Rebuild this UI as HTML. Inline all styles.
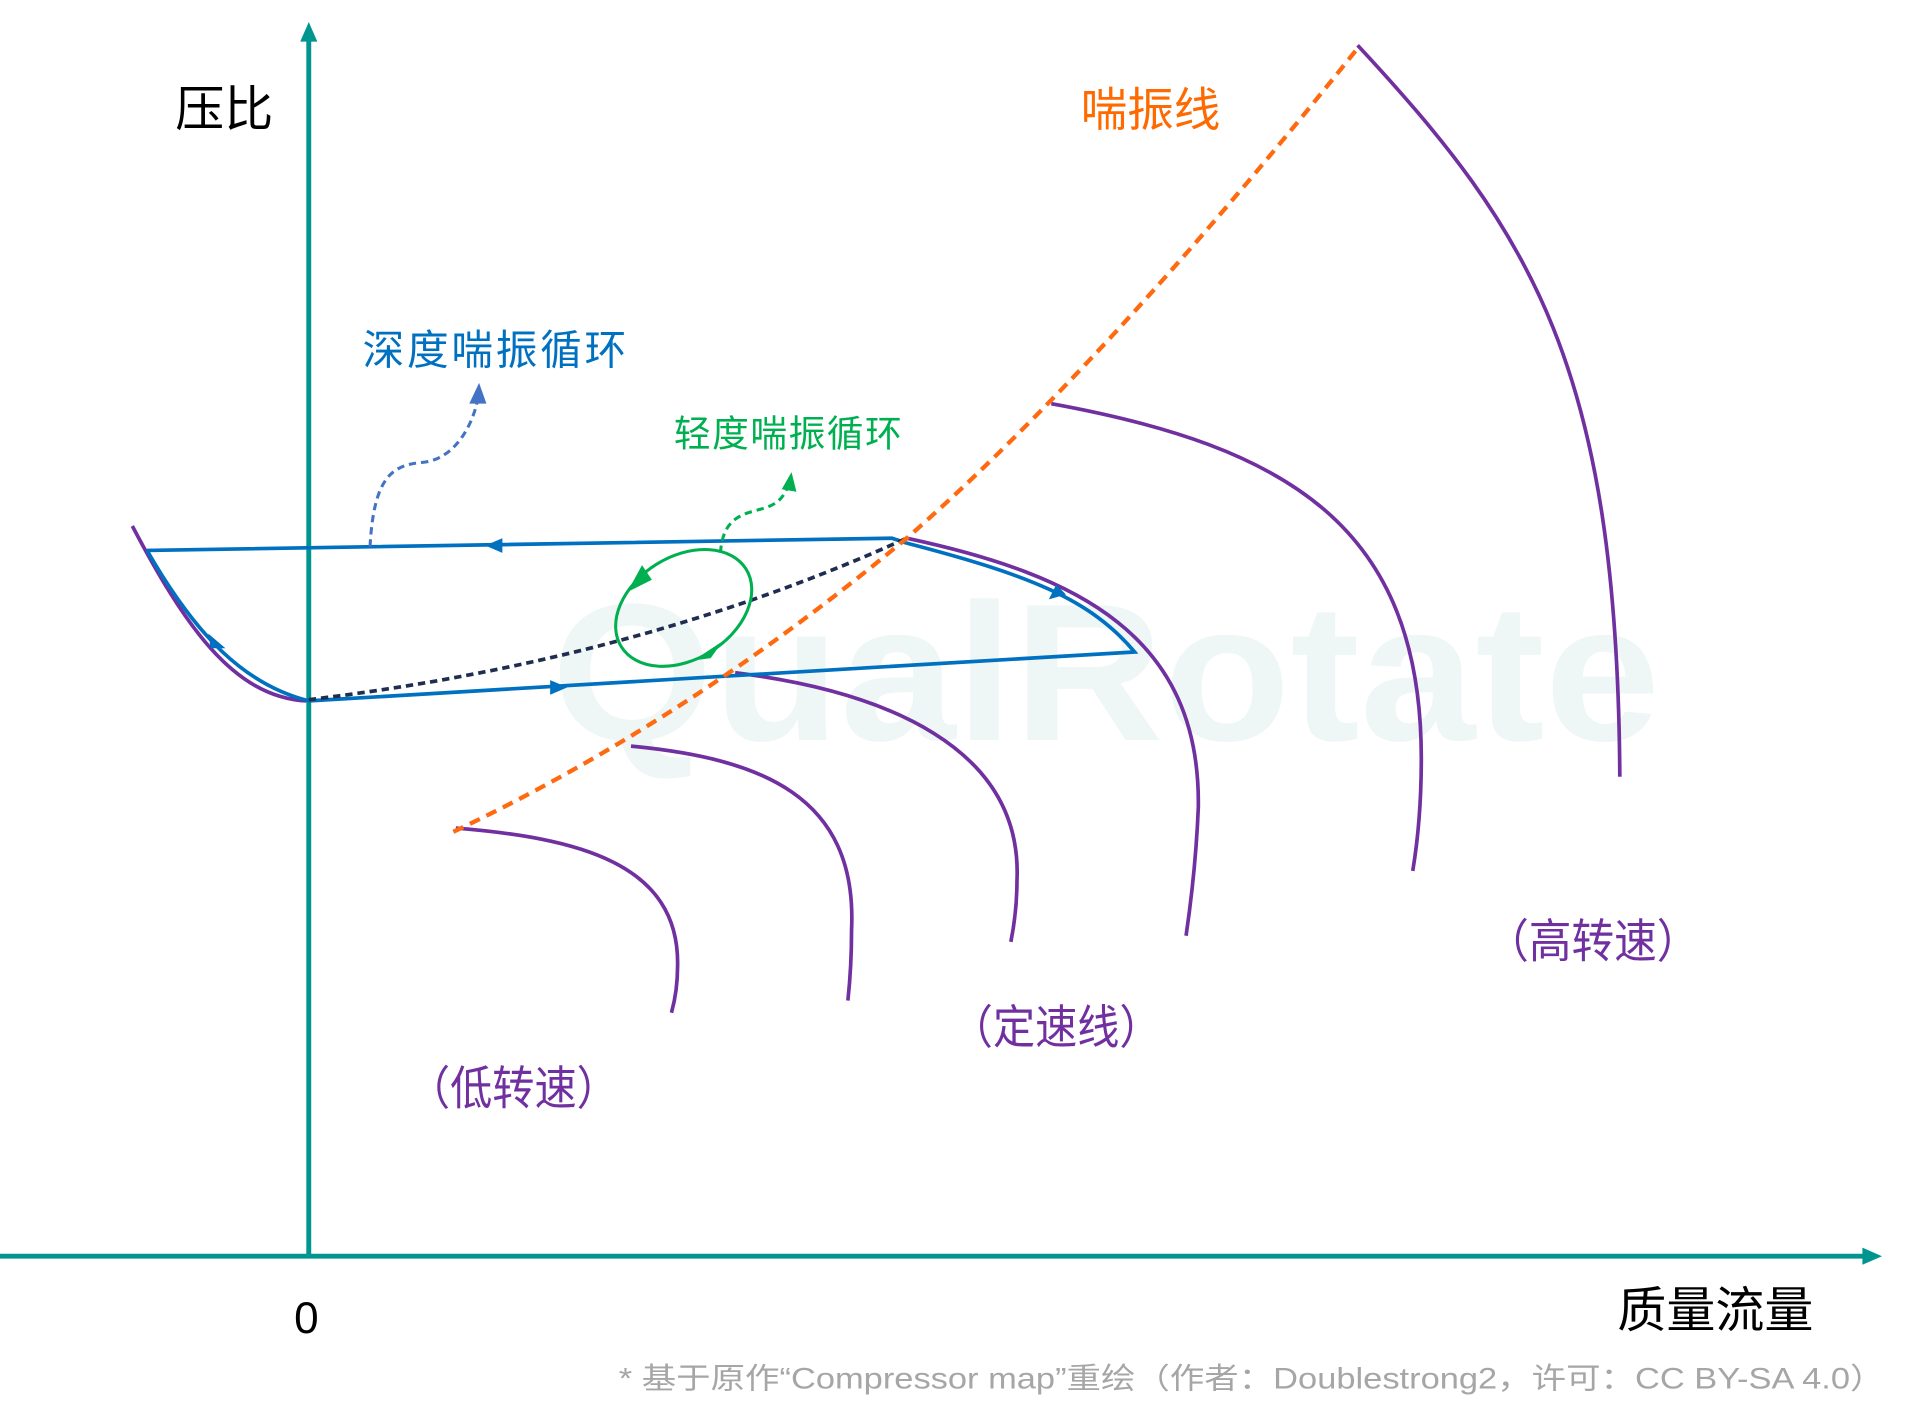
<!DOCTYPE html>
<html><head><meta charset="utf-8"><style>
html,body{margin:0;padding:0;background:#fff;width:1920px;height:1425px;overflow:hidden}
svg{display:block}
text{font-family:"Liberation Sans","Noto Sans CJK SC",sans-serif}
.cj{font-family:"Noto Sans CJK SC",sans-serif}
</style></head><body>
<svg width="1920" height="1425" viewBox="0 0 1567 1165" preserveAspectRatio="none">
<text x="450" y="605" font-size="160" font-weight="bold" fill="#eef6f6" textLength="905" lengthAdjust="spacingAndGlyphs">QualRotate</text>
<!-- axes -->
<line x1="252" y1="1027" x2="252" y2="32" stroke="#00968f" stroke-width="4"/>
<path d="M245,34L252,18L259,34z" fill="#00968f"/>
<line x1="0" y1="1027" x2="1522" y2="1027" stroke="#00968f" stroke-width="4"/>
<path d="M1520,1020L1536,1027L1520,1034z" fill="#00968f"/>
<!-- purple speed lines -->
<g fill="none" stroke="#7030a0" stroke-width="3">
<path d="M108,430C150,510 190,570 250,573"/>
<path d="M372,677C470,685 555,705 553,790Q553,810 548,828"/>
<path d="M515,610C620,620 700,650 695,760Q695,790 692,818"/>
<path d="M600,550C720,565 835,610 830,720Q830,745 825,770"/>
<path d="M740,440C880,470 980,520 978,660Q976,710 968,765"/>
<path d="M858,330C1050,365 1160,430 1160,620Q1160,670 1153,712"/>
<path d="M1108,37C1250,190 1320,300 1322,635"/>
</g>
<!-- blue loop -->
<g fill="none" stroke="#0070c0" stroke-width="3">
<path d="M120,450L728,440L740,444"/>
<path d="M740,444C840,470 890,490 926,533L252,573"/>
<path d="M120,450C160,520 200,560 252,573"/>
</g>
<path d="M410,440L396,446L410,452" fill="#0070c0"/>
<path d="M449,556L463,562L449,568" fill="#0070c0"/>
<path d="M856,490L862,478L870,486z" fill="#0070c0"/>
<path d="M170,518L184,530L172,530z" fill="#0070c0"/>
<!-- navy dashed -->
<path d="M252,572Q520,540 740,440" fill="none" stroke="#1f2d50" stroke-width="3" stroke-dasharray="6,4"/>
<!-- surge line -->
<path d="M370,680Q560,590 740,440Q900,300 1110,37" fill="none" stroke="#ff6a10" stroke-width="3.5" stroke-dasharray="9,6"/>
<!-- green cycle -->
<ellipse cx="558" cy="497" rx="60" ry="42" transform="rotate(-32 558 497)" fill="none" stroke="#00b050" stroke-width="2.5"/>
<path d="M512,484L524,462L532,474z" fill="#00b050"/>
<path d="M566,540L590,524L580,538z" fill="#00b050"/>
<path d="M588,452C590,420 610,420 625,415C640,410 642,400 645,392" fill="none" stroke="#00b050" stroke-width="2.5" stroke-dasharray="6,4"/>
<path d="M638,400L646,386L650,402z" fill="#00b050"/>
<!-- blue dashed -->
<path d="M302,447C305,390 320,380 345,378C375,375 388,340 390,325" fill="none" stroke="#4472c4" stroke-width="2.5" stroke-dasharray="6,4"/>
<path d="M383,330L391,313L397,330z" fill="#4472c4"/>
<!-- text -->
<text x="143" y="103" font-size="40" fill="#000">压比</text>
<text x="240" y="1090" font-size="36" fill="#000">0</text>
<text x="1320" y="1085" font-size="40" fill="#000">质量流量</text>
<text x="882" y="103" font-size="38" fill="#ff6a00">喘振线</text>
<text x="296" y="298" font-size="34" fill="#0070c0" textLength="215">深度喘振循环</text>
<text x="550" y="365" font-size="30" fill="#00b050" textLength="186">轻度喘振循环</text>
<text class="cj" x="333" y="903" font-size="38" fill="#7030a0" textLength="172" lengthAdjust="spacingAndGlyphs">（低转速）</text>
<text class="cj" x="776" y="853" font-size="38" fill="#7030a0" textLength="172" lengthAdjust="spacingAndGlyphs">（定速线）</text>
<text class="cj" x="1213" y="783" font-size="38" fill="#7030a0" textLength="174" lengthAdjust="spacingAndGlyphs">（高转速）</text>
<text x="505" y="1135" font-size="24" fill="#a6a6a6" textLength="1033" lengthAdjust="spacingAndGlyphs">*   基于原作“Compressor map”重绘（作者：Doublestrong2，许可：CC BY-SA 4.0）</text>
</svg>
</body></html>
